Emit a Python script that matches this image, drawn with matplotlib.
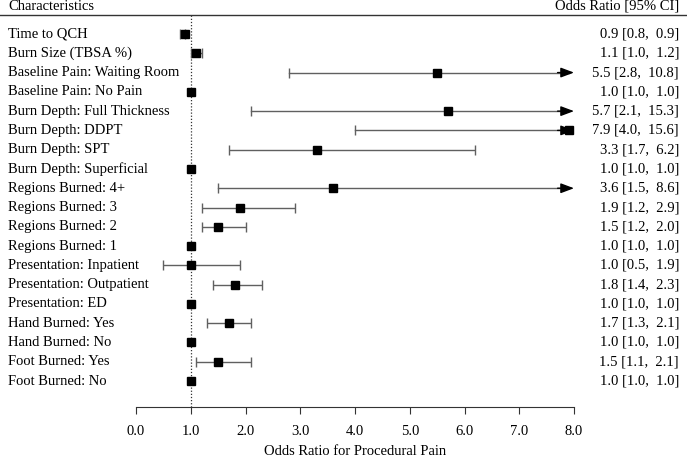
import matplotlib.pyplot as plt

labels = ['Time to QCH', 'Burn Size (TBSA %)', 'Baseline Pain: Waiting Room',
          'Baseline Pain: No Pain', 'Burn Depth: Full Thickness', 'Burn Depth: DDPT',
          'Burn Depth: SPT', 'Burn Depth: Superficial', 'Regions Burned: 4+',
          'Regions Burned: 3', 'Regions Burned: 2', 'Regions Burned: 1',
          'Presentation: Inpatient', 'Presentation: Outpatient', 'Presentation: ED',
          'Hand Burned: Yes', 'Hand Burned: No', 'Foot Burned: Yes', 'Foot Burned: No']
odds = [0.9, 1.1, 5.5, 1.0, 5.7, 7.9, 3.3, 1.0, 3.6, 1.9, 1.5, 1.0,
        1.0, 1.8, 1.0, 1.7, 1.0, 1.5, 1.0]
lower = [0.8, 1.0, 2.8, 1.0, 2.1, 4.0, 1.7, 1.0, 1.5, 1.2, 1.2, 1.0,
         0.5, 1.4, 1.0, 1.3, 1.0, 1.1, 1.0]
upper = [0.9, 1.2, 10.8, 1.0, 15.3, 15.6, 6.2, 1.0, 8.6, 2.9, 2.0, 1.0,
         1.9, 2.3, 1.0, 2.1, 1.0, 2.1, 1.0]
xticks = [0, 1, 2, 3, 4, 5, 6, 7, 8]
xmax = 8

plt.rcParams['font.family'] = ['Liberation Serif', 'DejaVu Serif']
plt.rcParams['font.size'] = 10.5

W, H = 687, 458
fig = plt.figure(figsize=(W / 100, H / 100), dpi=100)
x0, x1 = 136, 574
ytop, ybot = 15, 407
ax = fig.add_axes([x0 / W, 1 - ybot / H, (x1 - x0) / W, (ybot - ytop) / H])
row0, step = 34, 19.28
ax.set_xlim(0, xmax)
ax.set_ylim((ybot - row0) / step, (ytop - row0) / step)

for s in ['top', 'right', 'left']:
    ax.spines[s].set_visible(False)
ax.spines['bottom'].set_color('#333333')
ax.set_yticks([])
ax.set_xticks(xticks)
ax.set_xticklabels([f'{t:.1f}' for t in xticks])
ax.tick_params(axis='x', direction='out', length=5, pad=8, color='#333333')
ax.set_xlabel('Odds Ratio for Procedural Pain', labelpad=5)

ax.axvline(1, color='#333333', linestyle=(0, (1, 1.5)), linewidth=0.9, zorder=1)

ci_col = '#606060'
for i in range(len(labels)):
    if upper[i] > xmax:
        ax.plot([lower[i], xmax - 0.1], [i, i], color=ci_col, lw=1)
        ax.annotate('', xy=(xmax, i), xytext=(xmax - 0.3, i),
                    arrowprops=dict(arrowstyle='-|>,head_length=0.4,head_width=0.15',
                                    color='black', lw=1.0, mutation_scale=20,
                                    shrinkA=0, shrinkB=0))
        ax.plot([lower[i]], [i], marker='|', color=ci_col, markersize=7, mew=1)
    elif upper[i] > lower[i]:
        ax.errorbar(odds[i], i, xerr=[[odds[i] - lower[i]], [upper[i] - odds[i]]],
                    fmt='none', ecolor=ci_col, elinewidth=1, capsize=3.5, capthick=1)
    ax.plot(odds[i], i, marker='s', color='black', markersize=6, zorder=3)

    fig.text(8 / W, 1 - (row0 + step * i) / H, labels[i], ha='left', va='center')
    fig.text(679 / W, 1 - (row0 + step * i) / H,
             f'{odds[i]:.1f} [{lower[i]:.1f},  {upper[i]:.1f}]', ha='right', va='center')

fig.text(8 / W, 1 - 6 / H, 'Characteristics', ha='left', va='center')
fig.text(679 / W, 1 - 6 / H, 'Odds Ratio [95% CI]', ha='right', va='center')
fig.add_artist(plt.Line2D([0, 1], [1 - 15 / H, 1 - 15 / H], color='#333333', lw=1))

fig.savefig('out.png', dpi=100)
